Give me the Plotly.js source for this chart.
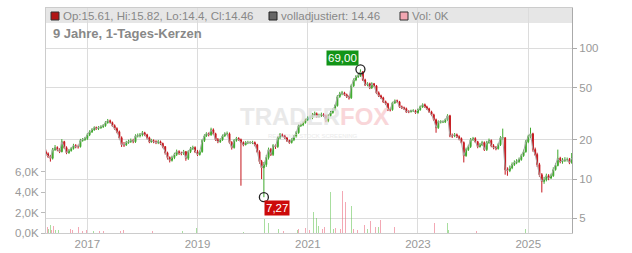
<!DOCTYPE html>
<html><head><meta charset="utf-8">
<script src="https://cdn.plot.ly/plotly-3.0.1.min.js"></script>
<style>html,body{margin:0;padding:0;background:#fff}#chart{width:632px;height:253px}</style>
</head><body><div id="chart"></div>
<script>
// semi-monthly candles (1st and 16th of each month), Apr 2016 .. Oct 2025
const openVals = [
 16.2,15.6,14.9,14.4,16.8,17.4,16.8,16.2,19.3,17.4,15.9,16.5,17.1,18.0,17.7,17.7,19.7,20.0,
 20.4,21.8,23.0,23.8,24.7,24.3,24.7,25.1,25.6,27.0,27.9,27.0,25.6,24.3,23.0,20.7,18.3,18.3,19.0,19.3,19.7,19.3,21.4,21.4,
 21.8,22.6,21.8,20.7,19.3,19.7,19.3,19.0,19.3,18.7,17.7,15.9,14.6,13.9,14.6,15.4,16.2,15.7,15.7,16.2,14.4,16.2,17.1,17.4,
 16.2,15.4,16.2,19.7,21.4,22.2,21.8,23.8,22.2,20.0,19.3,20.0,21.4,22.2,22.2,19.0,17.4,19.7,20.4,20.0,19.0,18.3,19.0,19.0,
 19.0,19.0,18.3,16.2,13.6,12.2,12.9,14.6,16.8,15.4,18.0,17.7,20.7,21.8,21.4,20.7,19.7,19.0,20.0,21.1,22.6,25.6,26.0,27.0,
 28.4,29.4,29.4,31.0,31.6,30.0,30.5,31.0,30.5,27.9,30.5,32.2,33.9,36.4,42.6,44.8,45.6,44.1,42.6,41.8,51.6,57.3,60.5,61.6,
 66.0,57.3,52.5,53.5,49.8,53.5,51.6,45.6,43.3,41.8,39.0,37.7,33.9,33.9,38.3,39.7,39.0,35.7,35.1,34.5,32.7,32.7,33.3,33.3,
 32.2,33.9,35.7,37.0,35.7,34.5,32.7,31.0,28.4,24.7,27.4,27.4,27.4,28.4,30.5,21.4,21.4,21.8,21.1,20.4,19.0,15.1,16.8,17.7,
 20.0,20.4,19.3,17.7,18.3,19.0,16.8,19.0,19.7,18.0,17.4,17.1,18.3,20.7,20.7,11.8,11.6,12.2,12.9,13.4,13.6,14.1,15.1,16.2,
 19.3,21.1,22.2,16.8,15.4,12.9,10.8,9.6,9.9,10.6,10.2,10.6,11.8,12.7,14.4,13.6,13.9,14.1,14.1,13.4
];
const highVals = [
 16.8,16.0,15.3,17.3,18.2,17.8,17.2,20.2,19.6,17.8,17.0,17.6,18.6,18.5,18.3,20.3,20.6,21.0,
 22.4,23.6,24.5,25.3,25.2,25.4,25.8,26.3,27.7,28.8,28.5,27.5,26.2,24.9,23.5,21.2,19.2,19.6,20.0,20.4,20.3,22.0,22.3,22.5,
 23.3,23.0,22.2,21.1,20.3,20.1,19.8,19.9,19.7,19.0,17.9,16.2,14.9,15.1,15.9,16.8,16.6,16.2,16.7,16.4,16.6,17.6,18.0,17.8,
 16.7,16.6,20.2,22.0,22.8,22.7,24.7,24.4,22.6,20.6,20.5,21.9,22.8,23.1,22.7,19.5,20.2,21.0,20.9,20.4,19.4,19.5,19.6,19.5,
 19.6,19.4,18.6,16.6,14.0,13.5,15.3,17.4,17.3,18.5,18.4,21.2,22.5,22.3,21.8,21.0,20.0,20.5,21.7,23.3,26.3,26.8,27.7,29.0,
 30.2,30.6,32.0,32.8,32.3,31.6,32.2,31.9,31.2,31.3,33.2,34.9,37.3,43.8,46.4,47.2,46.5,45.0,43.6,53.0,58.8,62.3,63.5,69.0,
 67.0,58.5,55.0,54.6,54.9,54.3,52.4,46.8,44.2,42.6,39.8,38.3,35.1,39.0,40.6,40.5,39.6,36.5,35.8,35.2,33.6,33.9,34.2,33.9,
 34.6,36.5,37.9,37.8,36.4,35.1,33.3,31.6,29.0,28.1,28.2,28.1,29.0,31.3,31.0,22.3,22.5,22.3,21.6,20.8,19.4,17.4,18.3,20.6,
 21.0,20.9,19.6,18.9,19.6,19.4,19.6,20.4,20.1,18.5,17.9,18.9,21.3,24.3,20.9,12.3,12.7,13.4,13.9,14.2,14.6,15.6,16.8,19.9,
 21.8,24.7,22.6,17.4,15.9,13.3,11.1,10.4,11.0,10.9,11.0,12.3,13.2,16.8,14.8,14.5,14.7,14.6,14.5,15.82
];
const lowVals = [
 15.0,14.5,13.6,14.1,16.4,16.3,15.8,16.0,17.0,15.5,15.6,16.2,16.8,17.2,17.1,17.4,19.3,19.6,
 19.9,21.3,22.5,23.4,23.8,23.7,24.2,24.6,25.1,26.5,26.6,25.1,23.8,22.4,20.1,17.6,17.6,17.9,18.6,18.9,18.8,18.9,20.8,20.8,
 21.2,21.3,20.1,18.8,18.9,18.8,18.5,18.5,18.2,17.2,15.4,14.1,13.4,13.6,14.2,15.0,15.3,15.2,15.3,13.8,14.0,15.8,16.7,15.8,
 15.0,15.1,15.9,19.2,21.0,21.2,21.4,21.7,19.6,18.8,18.9,19.6,21.0,21.6,18.6,16.8,17.1,19.3,19.6,8.9,17.8,18.1,18.5,18.6,
 18.5,17.8,15.8,13.1,10.0,7.27,12.4,14.1,15.0,15.0,17.0,17.3,20.2,20.9,20.3,19.2,18.6,18.7,19.5,20.7,22.2,25.0,25.4,26.5,
 27.8,28.4,28.7,30.2,29.3,29.4,29.8,29.9,27.2,27.2,29.8,31.6,33.2,35.8,41.8,43.7,43.2,41.7,40.5,41.0,50.6,56.0,59.3,60.4,
 56.2,51.4,51.2,48.7,48.9,50.6,44.6,42.4,40.9,38.2,36.8,33.1,32.9,33.3,37.5,38.2,35.0,34.3,33.7,32.0,31.9,32.3,32.6,31.5,
 31.6,33.3,35.0,35.0,33.8,32.0,30.3,27.8,22.6,24.2,26.6,26.8,26.8,27.9,20.9,20.6,20.9,20.6,19.8,18.5,13.4,14.8,16.4,17.3,
 19.6,18.9,17.2,17.4,17.9,16.4,16.4,18.6,17.5,16.9,16.6,16.8,17.9,20.0,10.8,10.6,11.3,11.9,12.6,13.0,13.3,13.8,14.8,15.9,
 18.8,20.5,16.2,15.0,12.4,10.4,7.9,9.2,9.6,9.8,10.0,10.4,11.6,12.5,13.2,13.1,13.5,13.6,13.0,13.1
];
const closeVals = [
 15.6,14.9,14.4,16.8,17.4,16.8,16.2,19.3,17.4,15.9,16.5,17.1,18.0,17.7,17.7,19.7,20.0,20.4,
 21.8,23.0,23.8,24.7,24.3,24.7,25.1,25.6,27.0,27.9,27.0,25.6,24.3,23.0,20.7,18.3,18.3,19.0,19.3,19.7,19.3,21.4,21.4,21.8,
 22.6,21.8,20.7,19.3,19.7,19.3,19.0,19.3,18.7,17.7,15.9,14.6,13.9,14.6,15.4,16.2,15.7,15.7,16.2,14.4,16.2,17.1,17.4,16.2,
 15.4,16.2,19.7,21.4,22.2,21.8,23.8,22.2,20.0,19.3,20.0,21.4,22.2,22.2,19.0,17.4,19.7,20.4,20.0,19.0,18.3,19.0,19.0,19.0,
 19.0,18.3,16.2,13.6,12.2,12.9,14.6,16.8,15.4,18.0,17.7,20.7,21.8,21.4,20.7,19.7,19.0,20.0,21.1,22.6,25.6,26.0,27.0,28.4,
 29.4,29.4,31.0,31.6,30.0,30.5,31.0,30.5,27.9,30.5,32.2,33.9,36.4,42.6,44.8,45.6,44.1,42.6,41.8,51.6,57.3,60.5,61.6,66.0,
 57.3,52.5,53.5,49.8,53.5,51.6,45.6,43.3,41.8,39.0,37.7,33.9,33.9,38.3,39.7,39.0,35.7,35.1,34.5,32.7,32.7,33.3,33.3,32.2,
 33.9,35.7,37.0,35.7,34.5,32.7,31.0,28.4,24.7,27.4,27.4,27.4,28.4,30.5,21.4,21.4,21.8,21.1,20.4,19.0,15.1,16.8,17.7,20.0,
 20.4,19.3,17.7,18.3,19.0,16.8,19.0,19.7,18.0,17.4,17.1,18.3,20.7,20.7,11.8,11.6,12.2,12.9,13.4,13.6,14.1,15.1,16.2,19.3,
 21.1,22.2,16.8,15.4,12.9,10.8,9.6,9.9,10.6,10.2,10.6,11.8,12.7,14.4,13.6,13.9,14.1,14.1,13.4,14.46
];

// volume (thousands) on individual days
const volDates = ['2016-04-09','2016-04-19','2016-04-29','2016-05-09','2016-05-19','2016-06-01','2016-06-21','2016-07-04','2016-07-17','2016-08-06','2016-08-19','2016-09-12','2016-09-25','2016-10-11','2016-11-04','2016-11-27','2016-12-27',
 '2017-02-08','2017-03-20','2017-04-18','2017-08-06','2017-08-26','2017-11-26','2018-03-06','2018-04-01','2018-04-21','2018-05-11','2018-09-21','2018-12-09','2018-12-23',
 '2019-10-30','2020-01-17','2020-03-23','2020-04-16','2020-06-18','2020-07-21','2020-10-22','2020-11-01','2020-12-14','2020-12-27',
 '2021-01-12','2021-01-22','2021-02-05','2021-02-11','2021-02-18','2021-02-28','2021-03-10','2021-03-23','2021-04-06','2021-04-19','2021-05-15','2021-05-29','2021-06-21','2021-07-04','2021-07-20','2021-08-03','2021-08-16','2021-08-29','2021-09-05','2021-09-18','2021-10-15','2021-10-28','2021-11-10','2021-11-27','2021-12-13',
 '2022-01-02','2022-01-09','2022-01-29','2022-02-18','2022-03-23','2022-04-12','2022-04-25','2022-05-21','2022-06-10','2022-07-27',
 '2023-02-10','2023-03-02','2023-04-20','2023-07-18','2023-07-25','2024-01-27','2024-11-01','2024-12-11','2024-12-24','2025-01-19','2025-07-17','2025-09-15'];
const volValues = [0.6,0.4,0.8,0.3,0.7,0.3,0.25,0.2,0.25,0.3,0.2,0.4,0.3,0.2,0.6,0.2,0.25,
 0.15,0.15,0.15,0.2,0.3,0.5,0.15,0.2,0.3,0.3,0.15,0.5,0.5,
 0.1,0.1,1.4,1.0,0.35,0.2,0.3,0.35,0.5,0.6,
 0.3,1.1,2.1,1.3,2.6,1.5,0.7,0.4,0.4,0.6,2.9,4.0,0.4,0.5,2.4,0.4,4.1,2.4,3.0,1.6,2.6,0.4,0.5,0.3,1.2,
 0.4,0.8,0.4,1.2,0.6,0.6,1.3,0.4,0.3,0.6,
 0.2,0.2,1.0,1.0,0.3,0.2,1.0,0.4,0.2,1.1,1.0,1.5];
const volUp = [0,1,1,0,0,1,1,0,1,1,0,0,0,1,0,0,0,
 1,0,0,0,0,1,0,1,0,0,1,1,1,
 1,0,1,1,1,0,1,0,0,0,
 0,0,1,1,0,1,1,0,0,0,1,1,1,0,0,0,0,0,0,0,1,0,1,0,1,
 0,0,1,0,0,1,0,1,1,0,
 0,0,0,1,1,0,0,1,0,0,1,0];

const legendTexts = ['Op:15.61, Hi:15.82, Lo:14.4, Cl:14.46', 'volladjustiert: 14.46', 'Vol: 0K'];
const chartTitle = '9 Jahre, 1-Tages-Kerzen';
const priceTicks = [5, 10, 20, 50, 100];
const volTicks = [0, 2, 4, 6];
const volTickText = ['0,0K', '2,0K', '4,0K', '6,0K'];

// period dates
const dates = [];
{
  let y = 2016, m = 4;
  const pad = n => (n < 10 ? '0' : '') + n;
  while (y < 2025 || (y === 2025 && m <= 10)) {
    dates.push(y + '-' + pad(m) + '-01', y + '-' + pad(m) + '-16');
    m++; if (m > 12) { m = 1; y++; }
  }
}

const RED = '#c5161c', GREEN = '#3da82b';
const iMax = highVals.indexOf(Math.max(...highVals));
const iMin = lowVals.indexOf(Math.min(...lowVals));
const fmt = v => v.toFixed(2).replace('.', ',');

const traces = [
  {type:'bar', x:volDates, y:volValues, xaxis:'x', yaxis:'y',
   marker:{color: volUp.map(u => u ? 'rgba(110,200,95,0.6)' : 'rgba(235,110,130,0.6)'), line:{width:0}},
   width: 86400000*6, hoverinfo:'skip'},
  {type:'scatter', mode:'lines', x:dates, y:closeVals, xaxis:'x', yaxis:'y2',
   line:{color:'#aaaaaa', width:1}, hoverinfo:'skip'},
  {type:'candlestick', x:dates, open:openVals, high:highVals, low:lowVals, close:closeVals,
   xaxis:'x', yaxis:'y2', whiskerwidth:0,
   increasing:{line:{color:GREEN, width:1}, fillcolor:GREEN},
   decreasing:{line:{color:RED, width:1}, fillcolor:RED}, hoverinfo:'skip'},
  {type:'scatter', mode:'markers', x:[dates[iMax], dates[iMin]], y:[highVals[iMax], lowVals[iMin]],
   xaxis:'x', yaxis:'y2', marker:{symbol:'circle-open', size:9, color:'#222', line:{width:1.3}}, hoverinfo:'skip'}
];

const F = '"Liberation Sans", Arial, sans-serif';
const px = x => (x - 46) / 526;
const py = y => (233 - y) / 225;

const layout = {
  width:632, height:253,
  margin:{l:46, r:60, t:8, b:20, pad:0},
  paper_bgcolor:'#ffffff', plot_bgcolor:'#ffffff',
  showlegend:false,
  font:{family:F, size:11.5, color:'#999'},
  bargap:0,
  xaxis:{type:'date', range:['2016-04-02','2025-10-18'], tick0:'2017-01-01', dtick:'M24', tickformat:'%Y',
    showgrid:true, gridcolor:'#dcdcdc', gridwidth:1, showline:true, linecolor:'#cccccc', mirror:true,
    ticks:'', zeroline:false, rangeslider:{visible:false}, tickfont:{family:F, size:11.5, color:'#999'}},
  yaxis:{range:[0,22], side:'left', tickvals:volTicks, ticktext:volTickText, ticks:'outside', ticklen:4,
    tickcolor:'#bbbbbb', showgrid:false, zeroline:false, showline:true, linecolor:'#cccccc',
    tickfont:{family:F, size:11.5, color:'#999'}},
  yaxis2:{type:'log', overlaying:'y', side:'right', range:[0.5878, 2.3076], tickvals:priceTicks,
    ticktext:priceTicks.map(String), ticks:'outside', ticklen:4, tickcolor:'#aaaaaa',
    showgrid:true, gridcolor:'#dcdcdc', showline:true, linecolor:'#aaaaaa', zeroline:false,
    tickfont:{family:F, size:11.5, color:'#999'}},
  shapes:[
    {type:'rect', xref:'paper', yref:'paper', x0:0, x1:1, y0:py(23), y1:1, fillcolor:'#e6e6e6', line:{width:0}, layer:'below'},
    {type:'rect', xref:'paper', yref:'paper', x0:px(51), x1:px(59), y0:py(20), y1:py(12), fillcolor:'#b01515', line:{color:'#333', width:1}},
    {type:'rect', xref:'paper', yref:'paper', x0:px(269), x1:px(277), y0:py(20), y1:py(12), fillcolor:'#666666', line:{color:'#222', width:1}},
    {type:'rect', xref:'paper', yref:'paper', x0:px(400), x1:px(408), y0:py(20), y1:py(12), fillcolor:'#f2a7b2', line:{color:'#333', width:1}}
  ],
  annotations:[
    {xref:'paper', yref:'paper', x:px(61), y:py(16), xanchor:'left', yanchor:'middle', showarrow:false,
     text:legendTexts[0], font:{family:F, size:11.5, color:'#888'}},
    {xref:'paper', yref:'paper', x:px(279), y:py(16), xanchor:'left', yanchor:'middle', showarrow:false,
     text:legendTexts[1], font:{family:F, size:11.5, color:'#888'}},
    {xref:'paper', yref:'paper', x:px(410), y:py(16), xanchor:'left', yanchor:'middle', showarrow:false,
     text:legendTexts[2], font:{family:F, size:11.5, color:'#888'}},
    {xref:'paper', yref:'paper', x:px(51), y:py(33), xanchor:'left', yanchor:'middle', showarrow:false,
     text:'<b>' + chartTitle + '</b>', font:{family:F, size:13, color:'#888'}},
    {xref:'paper', yref:'paper', x:px(314), y:py(116), xanchor:'center', yanchor:'middle', showarrow:false,
     text:'<b>TRADER<span style="color:#f7c9cd">FOX</span></b>', font:{family:F, size:24, color:'#e2e2e2'}, opacity:0.75},
    {xref:'paper', yref:'paper', x:px(312), y:py(136), xanchor:'center', yanchor:'middle', showarrow:false,
     text:'REALTIME STOCK SCREENING', font:{family:F, size:6, color:'#e4e4e4'}, opacity:0.75},
    {xref:'x', yref:'y2', x:dates[iMax], y:Math.log10(highVals[iMax]), xshift:-18, yshift:11, showarrow:false,
     text:fmt(highVals[iMax]), bgcolor:'#129417', borderpad:1, font:{family:F, size:11.5, color:'#ffffff'}},
    {xref:'x', yref:'y2', x:dates[iMin], y:Math.log10(lowVals[iMin]), xshift:13, yshift:-11, showarrow:false,
     text:fmt(lowVals[iMin]), bgcolor:'#cc0a0a', borderpad:1, font:{family:F, size:11.5, color:'#ffffff'}}
  ]
};

Plotly.newPlot('chart', traces, layout, {staticPlot:true, displayModeBar:false});
</script>
</body></html>
